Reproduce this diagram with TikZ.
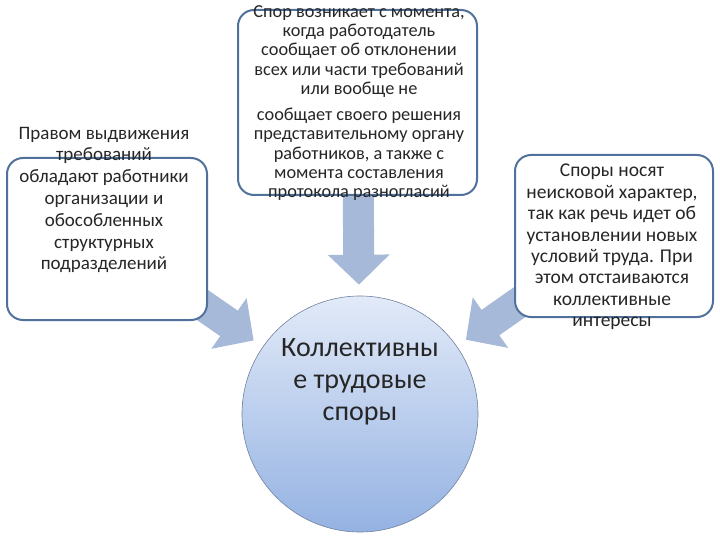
\documentclass[tikz,border=0pt]{standalone}
\usepackage{fontspec}
\setmainfont{Carlito}
\usetikzlibrary{arrows.meta,backgrounds}

\definecolor{boxline}{RGB}{79,113,155}
\definecolor{arrowfill}{RGB}{167,185,217}
\definecolor{circtop}{RGB}{226,234,248}
\definecolor{circbot}{RGB}{148,178,226}
\definecolor{circline}{RGB}{110,130,160}

\tikzset{
  claim/.style={draw=boxline, line width=2pt, rounded corners=16pt, fill=white},
  claimtext/.style={align=center, inner sep=0pt, text=black!85},
  hub/.style={circle, draw=circline, line width=0.6pt, top color=circtop,
    bottom color=circbot, minimum size=236pt, inner sep=0pt},
  flow/.style={line width=31pt, draw=arrowfill,
    -{Triangle[length=30pt,width=60pt]}, shorten >=11pt},
}

\begin{document}
\begin{tikzpicture}[x=1pt,y=-1pt]

    \useasboundingbox (0,0) rectangle (720,540);

    % Define nodes

    \node[claim, minimum width=200pt, minimum height=162pt] (rights) at (107,239) {}; %
    \node[claim, minimum width=239pt, minimum height=185pt] (onset)  at (357.5,102.5) {}; %
    \node[claim, minimum width=198pt, minimum height=162pt] (nature) at (614,236) {}; %
    \node[hub] (disputes) at (360,414) {}; %

    % texts
    \node[claimtext, font=\fontsize{19}{21.8}\selectfont] (rights-text) at (104,200)
      {Правом выдвижения\\требований\\обладают работники\\организации и\\обособленных\\структурных\\подразделений}; %
    \node[claimtext, font=\fontsize{18.3}{19.3}\selectfont] (onset-text) at (359,103)
      {Спор возникает с момента,\\когда работодатель\\сообщает об отклонении\\всех или части требований\\или вообще не\\[7pt]
       сообщает своего решения\\представительному органу\\работников, а также с\\момента составления\\протокола разногласий}; %
    \node[claimtext, font=\fontsize{19.5}{21.4}\selectfont] (nature-text) at (612,247)
      {Споры носят\\неисковой характер,\\так как речь идет об\\установлении новых\\условий труда. При\\этом отстаиваются\\коллективные\\интересы}; %
    \node[claimtext, font=\fontsize{28}{32}\selectfont] (disputes-text) at (360,382)
      {Коллективны\\е трудовые\\споры}; %

    % Connect the nodes
    \begin{scope}[on background layer]
      \draw[flow] (rights.center) -- (disputes);
      \draw[flow] (onset.center) -- (disputes);
      \draw[flow] (nature.center) -- (disputes);
    \end{scope}

\end{tikzpicture}
\end{document}
